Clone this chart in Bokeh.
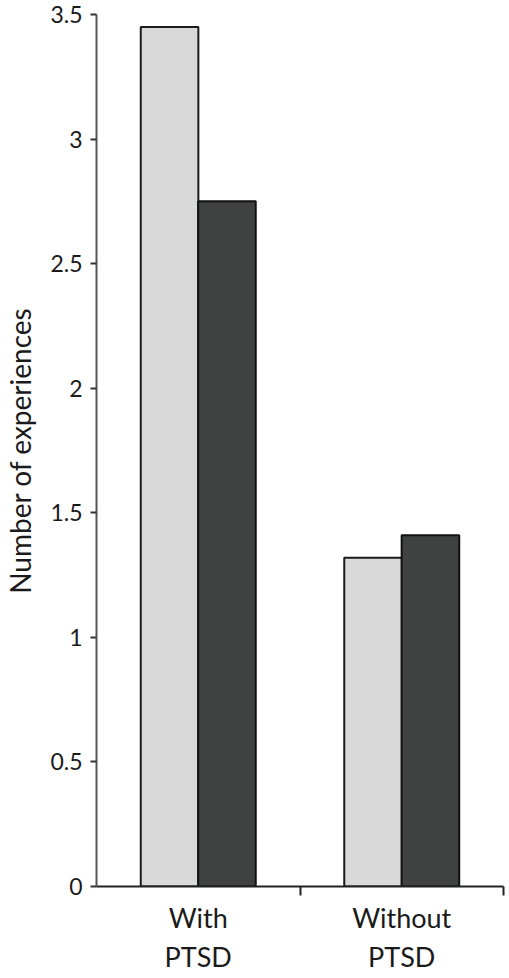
from bokeh.plotting import figure
from bokeh.models import FixedTicker, ColumnDataSource, Range1d
from bokeh.embed import file_html
from bokeh.resources import INLINE

categories = ["With\nPTSD", "Without\nPTSD"]
series_light = [3.45, 1.32]
series_dark = [2.75, 1.41]
y_ticks = [0, 0.5, 1, 1.5, 2, 2.5, 3, 3.5]
y_tick_labels = ["0", "0.5", "1", "1.5", "2", "2.5", "3", "3.5"]

FONT = "Lato"
bar_w = 0.283
off = 0.141

idx = list(range(len(categories)))
centers = [i + 0.5 for i in idx]

p = figure(frame_width=407, frame_height=872, output_backend="svg", toolbar_location=None,
           x_range=Range1d(0, len(categories)), y_range=Range1d(0, 3.5),
           min_border_left=88, min_border_right=6, min_border_top=14, min_border_bottom=70)

src_l = ColumnDataSource(dict(x=[c - off for c in centers], top=series_light))
src_d = ColumnDataSource(dict(x=[c + off for c in centers], top=series_dark))
p.vbar(x="x", top="top", width=bar_w, source=src_l, fill_color="#d9d9d9",
       line_color="#1a1a1a", line_width=2)
p.vbar(x="x", top="top", width=bar_w, source=src_d, fill_color="#404141",
       line_color="#111111", line_width=2)

p.grid.visible = False
p.outline_line_color = None
p.background_fill_color = "white"
p.border_fill_color = "white"

# x axis
xa = p.xaxis[0]
xa.ticker = FixedTicker(ticks=centers, minor_ticks=[i + 1 for i in idx])
xa.major_label_overrides = {c: lab for c, lab in zip(centers, categories)}
xa.major_tick_out = 0
xa.major_tick_in = 0
xa.minor_tick_out = 9
xa.minor_tick_in = 0
xa.minor_tick_line_color = "#222222"
xa.minor_tick_line_width = 2
xa.axis_line_color = "#222222"
xa.axis_line_width = 2
xa.major_label_standoff = 5
xa.major_label_text_font = FONT
xa.major_label_text_font_size = "27px"
xa.major_label_text_color = "#1a1a1a"

# y axis
ya = p.yaxis[0]
ya.ticker = FixedTicker(ticks=y_ticks, minor_ticks=[])
ya.major_label_overrides = {t: lab for t, lab in zip(y_ticks, y_tick_labels)}
ya.major_tick_out = 6
ya.major_tick_in = 0
ya.major_tick_line_color = "#333333"
ya.major_tick_line_width = 2
ya.axis_line_color = "#555555"
ya.axis_line_width = 2
ya.major_label_standoff = 8
ya.major_label_text_font = FONT
ya.major_label_text_font_size = "23px"
ya.major_label_text_color = "#1a1a1a"
ya.axis_label = "Number of experiences"
ya.axis_label_text_font = FONT
ya.axis_label_text_font_size = "28px"
ya.axis_label_text_font_style = "normal"
ya.axis_label_text_color = "#1a1a1a"
ya.axis_label_standoff = 10

open("out.html", "w").write(file_html(p, INLINE))
